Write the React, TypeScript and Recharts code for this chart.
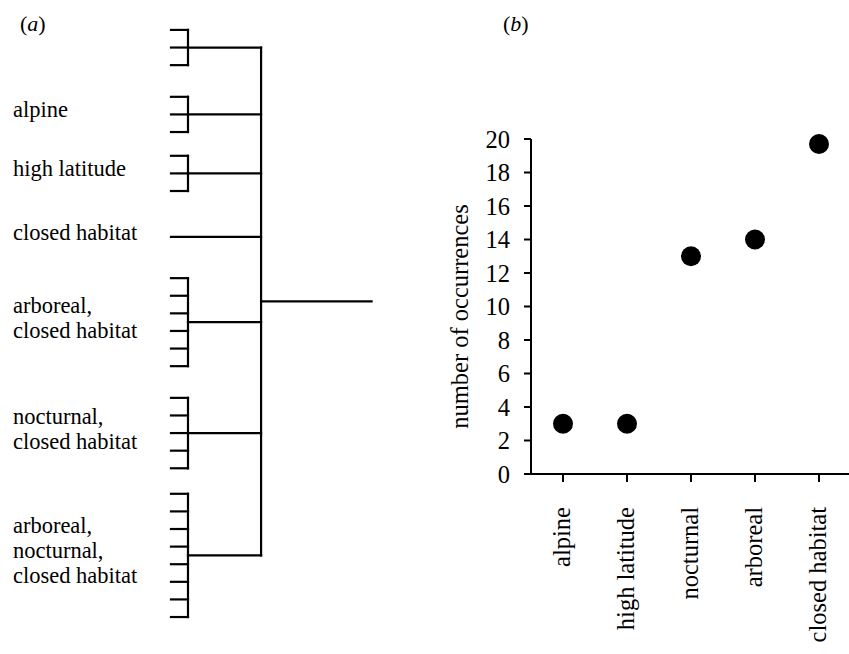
import React from 'react';
import { ScatterChart, Scatter, XAxis, YAxis, ReferenceLine, Label } from 'recharts';

const FONT = 'Liberation Serif';
const FS = 24.5;
const TREE_FS = 22.5;
const TREE_LINE = 25;

// (a) clades from top to bottom
const cladeLabels = [
  [],
  ['alpine'],
  ['high latitude'],
  ['closed habitat'],
  ['arboreal,', 'closed habitat'],
  ['nocturnal,', 'closed habitat'],
  ['arboreal,', 'nocturnal,', 'closed habitat'],
];
const cladeLeaves = [3, 3, 3, 1, 6, 5, 8];
// position of the first leaf of each clade (in leaf rows)
const cladeFirstLeaf = [0, 3.8, 7.15, 11.75, 14.1, 20.9, 26.35];

// branch depths
const tipX = 0;
const cladeX = 1;
const spineX = 5.3;
const rootX = 11.8;
const labelX = -9.3;

// (b)
const traits = ['alpine', 'high latitude', 'nocturnal', 'arboreal', 'closed habitat'];
const occurrences = [3, 3, 13, 14, 19.7];
const yTicks = [0, 2, 4, 6, 8, 10, 12, 14, 16, 18, 20];

type Seg = [{ x: number; y: number }, { x: number; y: number }];

const segments: Seg[] = [];
const stems: number[] = [];
cladeLeaves.forEach((n, i) => {
  const first = cladeFirstLeaf[i];
  const last = first + n - 1;
  const mid = (first + last) / 2;
  stems.push(mid);
  if (n === 1) {
    segments.push([{ x: tipX, y: first }, { x: spineX, y: first }]);
    return;
  }
  for (let k = 0; k < n; k++) {
    segments.push([{ x: tipX, y: first + k }, { x: cladeX, y: first + k }]);
  }
  segments.push([{ x: cladeX, y: first }, { x: cladeX, y: last }]);
  segments.push([{ x: cladeX, y: mid }, { x: spineX, y: mid }]);
});
const rootY = (stems[0] + stems[stems.length - 1]) / 2;
segments.push([{ x: spineX, y: stems[0] }, { x: spineX, y: stems[stems.length - 1] }]);
segments.push([{ x: spineX, y: rootY }, { x: rootX, y: rootY }]);

const labelPoints = cladeLabels
  .map((lines, i) => ({ x: labelX, y: stems[i], lines }))
  .filter((d) => d.lines.length > 0);

const traitData = traits.map((t, i) => ({ idx: i + 1, trait: t, count: occurrences[i] }));

const CladeLabel = (props: any) => {
  const { cx, cy, payload } = props;
  const lines: string[] = payload.lines;
  const top = cy + 3 - ((lines.length - 1) * TREE_LINE) / 2;
  return (
    <g>
      {lines.map((l, i) => (
        <text
          key={i}
          x={cx}
          y={top + i * TREE_LINE}
          fontSize={TREE_FS}
          style={{ fontFamily: FONT }}
          fill="#000"
        >
          {l}
        </text>
      ))}
    </g>
  );
};

const TraitTick = (props: any) => {
  const { x, y, payload } = props;
  return (
    <g transform={`translate(${x + 7},${y}) rotate(-90)`}>
      <text x={0} y={0} textAnchor="end" fontSize={FS} style={{ fontFamily: FONT }} fill="#000">
        {traits[payload.value - 1]}
      </text>
    </g>
  );
};

const YTitle = (props: any) => {
  const vb = props.viewBox || { x: 0, y: 139, width: 111, height: 335 };
  const x = vb.x + 48;
  const y = vb.y + vb.height / 2 + 10;
  return (
    <text
      transform={`translate(${x},${y}) rotate(-90)`}
      textAnchor="middle"
      fontSize={FS}
      style={{ fontFamily: FONT }}
      fill="#000"
    >
      number of occurrences
    </text>
  );
};

const panelTag = (letter: string, left: number) => (
  <div
    style={{
      position: 'absolute',
      left,
      top: 13,
      fontSize: 22,
      lineHeight: '22px',
      fontFamily: FONT,
      color: '#000',
    }}
  >
    (<i>{letter}</i>)
  </div>
);

export default function App() {
  return (
    <div
      style={{
        position: 'absolute',
        left: 0,
        top: 0,
        width: 849,
        height: 654,
        overflow: 'hidden',
        background: '#fff',
        fontFamily: FONT,
      }}
    >
      {panelTag('a', 20)}
      {panelTag('b', 503)}

      <div style={{ position: 'absolute', left: 0, top: 0 }}>
        <ScatterChart width={420} height={654} margin={{ top: 0, right: 0, bottom: 0, left: 0 }}>
          <XAxis type="number" dataKey="x" hide domain={[-10.06, 14.65]} allowDataOverflow />
          <YAxis type="number" dataKey="y" hide reversed domain={[-1.7, 35.45]} allowDataOverflow />
          {segments.map((s, i) => (
            <ReferenceLine
              key={i}
              segment={s}
              stroke="#000"
              strokeWidth={2.2}
              strokeLinecap="square"
            />
          ))}
          <Scatter data={labelPoints} shape={<CladeLabel />} isAnimationActive={false} />
        </ScatterChart>
      </div>

      <div style={{ position: 'absolute', left: 420, top: 0 }}>
        <ScatterChart width={431} height={654} margin={{ top: 139, right: 0, bottom: 10, left: 0 }}>
          <XAxis
            type="number"
            dataKey="idx"
            domain={[0.5, 5.5]}
            ticks={[1, 2, 3, 4, 5]}
            interval={0}
            height={170}
            tickSize={8}
            tickMargin={25}
            axisLine={{ stroke: '#000', strokeWidth: 2 }}
            tickLine={{ stroke: '#000', strokeWidth: 2 }}
            tick={<TraitTick />}
          />
          <YAxis
            type="number"
            dataKey="count"
            domain={[0, 20]}
            ticks={yTicks}
            interval={0}
            width={111}
            tickSize={7}
            tickMargin={14}
            axisLine={{ stroke: '#000', strokeWidth: 2 }}
            tickLine={{ stroke: '#000', strokeWidth: 2 }}
            tick={{ fill: '#000', fontSize: FS, style: { fontFamily: FONT } }}
          >
            <Label content={<YTitle />} />
          </YAxis>
          <Scatter data={traitData} fill="#000" isAnimationActive={false} shape={(p: any) => <circle cx={p.cx} cy={p.cy} r={10} fill="#000" />} />
        </ScatterChart>
      </div>
    </div>
  );
}
